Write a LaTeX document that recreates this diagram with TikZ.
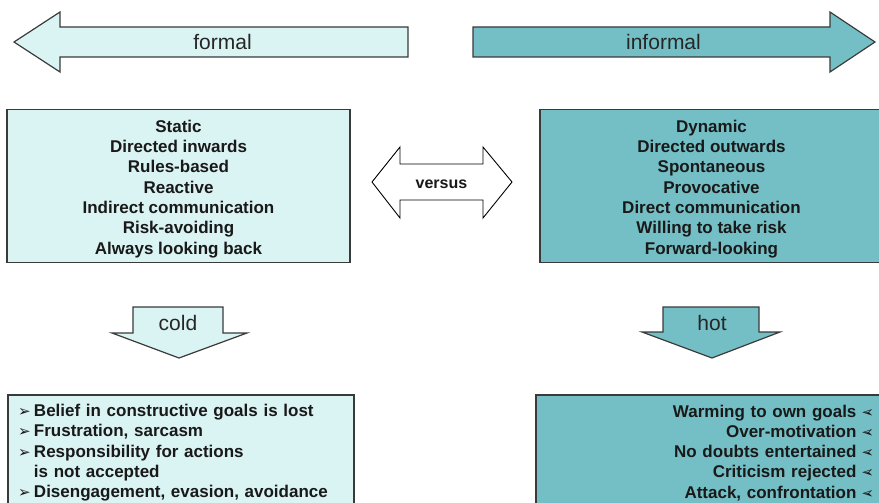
\documentclass[tikz,border=0pt]{standalone}
\usepackage{fontspec}
\setmainfont{Liberation Sans}
\newfontfamily\symfont{DejaVu Sans}
\usepackage{graphicx}

\definecolor{coldfill}{HTML}{DAF3F3}
\definecolor{hotfill}{HTML}{74BFC5}
\definecolor{edgegray}{HTML}{3A3A3A}

% list markers, pointing right and left
\newcommand{\lmark}{\makebox[16pt][l]{\symfont\fontsize{15}{15}\selectfont ➢}}
\newcommand{\rmark}{\hspace{5pt}\reflectbox{\symfont\fontsize{15}{15}\selectfont ➢}}
% pushes the first line of a box down a little
\newcommand{\toplift}[1]{\rule{0pt}{#1}}

\begin{document}
\begin{tikzpicture}[
        x=1pt, y=-1pt,
        box/.style={draw=edgegray, line width=1.2pt, inner sep=0pt,
                    text=black!90, font=\fontsize{17}{20.3}\selectfont\bfseries},
        blockarrow/.style={draw=edgegray, line width=1.2pt, line join=miter},
        arrowtext/.style={text=black!85, font=\fontsize{21}{24}\selectfont}
        ]
        \clip (0,0) rectangle (879,503);

        % direction arrows
        \draw[blockarrow, fill=coldfill] (14,42) -- (60,12) -- (60,27) -- (408,27)
              -- (408,57) -- (60,57) -- (60,72) -- cycle;
        \draw[blockarrow, fill=hotfill] (473,27) -- (830,27) -- (830,12) -- (875,42)
              -- (830,72) -- (830,57) -- (473,57) -- cycle;
        \node[arrowtext] (formal) at (222.5,42) {formal};
        \node[arrowtext] (informal) at (663.5,42) {informal};

        % the two styles
        \node[box, fill=coldfill, align=center, minimum width=343pt, minimum height=153pt]
              (static) at (178.5,186) {\toplift{18pt}Static\\Directed inwards\\Rules-based\\Reactive\\
              Indirect communication\\Risk-avoiding\\Always looking back};
        \node[box, fill=hotfill, align=center, minimum width=343pt, minimum height=153pt]
              (dynamic) at (711.5,186) {\toplift{18pt}Dynamic\\Directed outwards\\Spontaneous\\Provocative\\
              Direct communication\\Willing to take risk\\Forward-looking};

        % versus
        \draw[line width=0.9pt, fill=white] (372,182) -- (400,147) -- (400,164) -- (483,164)
              -- (483,147) -- (512,182) -- (483,218) -- (483,200) -- (400,200)
              -- (400,218) -- cycle;
        \node[text=black!90, font=\fontsize{16}{19}\selectfont\bfseries] (versus) at (441.5,184) {versus};

        % cold and hot
        \draw[blockarrow, fill=coldfill] (133,307) -- (223,307) -- (223,333) -- (247,333)
              -- (179,358) -- (112,333) -- (133,333) -- cycle;
        \draw[blockarrow, fill=hotfill] (663,307) -- (759,307) -- (759,332) -- (780,332)
              -- (712,358) -- (642,332) -- (663,332) -- cycle;
        \node[arrowtext] (cold) at (178,323) {cold};
        \node[arrowtext] (hot) at (712,323) {hot};

        % consequences
        \node[box, fill=coldfill, align=left, inner xsep=10pt, text width=326pt,
              minimum width=346pt, minimum height=112pt]
              (coldlist) at (181,451) {\toplift{16pt}\lmark Belief in constructive goals is lost\\
              \lmark Frustration, sarcasm\\
              \lmark Responsibility for actions\\
              \hspace*{16pt}is not accepted\\
              \lmark Disengagement, evasion, avoidance};
        \node[box, fill=hotfill, align=right, inner xsep=8pt, text width=330pt,
              minimum width=346pt, minimum height=112pt]
              (hotlist) at (709,451) {\toplift{16pt}Warming to own goals\rmark\\
              Over-motivation\rmark\\
              No doubts entertained\rmark\\
              Criticism rejected\rmark\\
              Attack, confrontation\rmark};
\end{tikzpicture}
\end{document}
